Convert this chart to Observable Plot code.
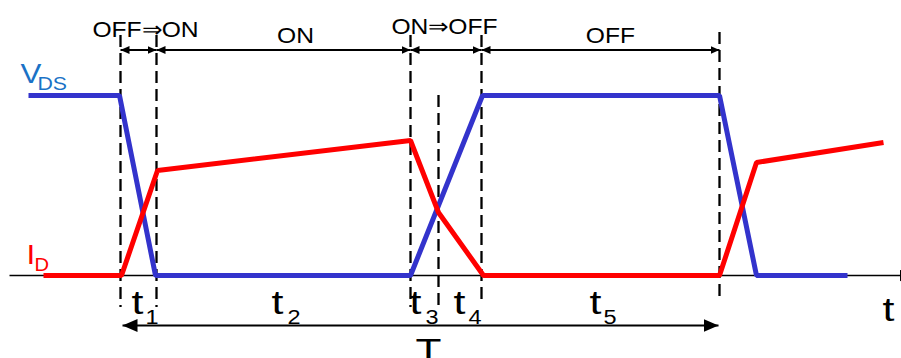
<!DOCTYPE html>
<html><head><meta charset="utf-8">
<script src="https://cdn.jsdelivr.net/npm/d3@7"></script>
<script src="https://cdn.jsdelivr.net/npm/@observablehq/plot@0.6"></script>
<style>html,body{margin:0;padding:0;overflow:hidden;background:#fff} svg{display:block}</style>
</head><body><div id="chart"></div>
<script>
// Time in arbitrary units, signal level in arbitrary units (0 = time axis)
const vdsTime  = [28, 119, 155, 410, 482, 719, 756, 847];
const vdsLevel = [180, 180, 0, 0, 180, 180, 0, 0];
const idTime   = [43, 121, 157, 410, 438, 483, 719, 756, 883];
const idLevel  = [0, 0, 105, 135, 63, 0, 0, 113, 133];

const edgeTime   = [120, 156, 410, 438, 481, 719];
const edgeTop    = [240, 240, 240, 180, 240, 243];
const edgeBottom = [-32, -32, -32, -31, -30, -27];

const phaseNames      = ["OFF⇒ON", "ON", "ON⇒OFF", "OFF"];
const phaseStart      = [120, 156, 410, 481];
const phaseEnd        = [156, 410, 481, 719];
const phaseLabelX     = [145, 295, 444, 610];
const phaseLabelLevel = [239, 233, 242, 233];
const phaseArrowLevel = 225.5;

const intervalSubs   = ["1", "2", "3", "4", "5"];
const intervalLabelX = [131, 271, 409, 453, 589];
const intervalSubX   = [145, 287, 425, 468, 603];

const periodStart = 122, periodEnd = 718, periodLevel = -50;
const axisStart = 9, axisEnd = 912;

const vds = vdsTime.map((t, i) => ({t, v: vdsLevel[i]}));
const id  = idTime.map((t, i) => ({t, v: idLevel[i]}));
const edges = edgeTime.map((t, i) => ({t, top: edgeTop[i], bottom: edgeBottom[i]}));
const phases = phaseNames.map((name, i) => ({name, a: phaseStart[i], b: phaseEnd[i], lx: phaseLabelX[i], ly: phaseLabelLevel[i]}));
const intervals = intervalSubs.map((s, i) => ({s, x: intervalLabelX[i], sx: intervalSubX[i]}));

function head(len, wid) {
  return (color) => {
    const m = d3.create("svg:marker")
      .attr("viewBox", `${-len} ${-wid / 2} ${len} ${wid}`)
      .attr("markerWidth", len).attr("markerHeight", wid)
      .attr("markerUnits", "userSpaceOnUse")
      .attr("refX", 0).attr("refY", 0)
      .attr("orient", "auto-start-reverse");
    m.append("path").attr("d", `M0,0L${-len},${-wid / 2}L${-len},${wid / 2}Z`).attr("fill", color).attr("stroke", "none");
    return m.node();
  };
}

const FONT = "Liberation Sans, Arial, sans-serif";
const BLUE = "#3333cc", RED = "#ff0000", LABELBLUE = "#1a72c6";

const chart = Plot.plot({
  width: 901, height: 358,
  marginTop: 0, marginRight: 0, marginBottom: 0, marginLeft: 0,
  style: {fontFamily: FONT, background: "#fff", overflow: "hidden"},
  x: {domain: [0, 901], axis: null},
  y: {domain: [-83, 275], axis: null},
  marks: [
    Plot.link([0], {x1: axisStart, x2: axisEnd, y1: 0, y2: 0, stroke: "black", strokeWidth: 1.6, markerEnd: head(13, 12)}),
    Plot.ruleX(edges, {x: "t", y1: "top", y2: "bottom", stroke: "black", strokeWidth: 2.3, strokeDasharray: "12,6"}),
    Plot.link(phases, {x1: "a", x2: "b", y1: phaseArrowLevel, y2: phaseArrowLevel, stroke: "black", strokeWidth: 2, markerStart: head(9, 8), markerEnd: head(9, 8)}),
    Plot.link([0], {x1: periodStart, x2: periodEnd, y1: periodLevel, y2: periodLevel, stroke: "black", strokeWidth: 2, markerStart: head(15, 13), markerEnd: head(15, 13)}),
    Plot.line(vds, {x: "t", y: "v", stroke: BLUE, strokeWidth: 5, strokeLinejoin: "miter", strokeLinecap: "butt"}),
    Plot.line(id, {x: "t", y: "v", stroke: RED, strokeWidth: 5, strokeLinejoin: "miter", strokeLinecap: "butt"}),
    Plot.text(phases, {x: "lx", y: "ly", text: "name", fontSize: 22, lineAnchor: "bottom", textAnchor: "middle", fill: "black"}),
    Plot.text(["V"], {x: 20, y: 193, text: d => d, fontSize: 28, lineAnchor: "bottom", textAnchor: "start", fill: LABELBLUE}),
    Plot.text(["DS"], {x: 37, y: 186, text: d => d, fontSize: 19, lineAnchor: "bottom", textAnchor: "start", fill: LABELBLUE}),
    Plot.text(["I"], {x: 26, y: 12, text: d => d, fontSize: 28, lineAnchor: "bottom", textAnchor: "start", fill: RED}),
    Plot.text(["D"], {x: 34, y: 5, text: d => d, fontSize: 18, lineAnchor: "bottom", textAnchor: "start", fill: RED}),
    Plot.text(intervals, {x: "x", y: -38, text: d => "t", fontSize: 33, lineAnchor: "bottom", textAnchor: "start", fill: "black"}),
    Plot.text(intervals, {x: "sx", y: -48, text: "s", fontSize: 21, lineAnchor: "bottom", textAnchor: "start", fill: "black"}),
    Plot.text(["t"], {x: 882, y: -45, text: d => d, fontSize: 33, lineAnchor: "bottom", textAnchor: "start", fill: "black"}),
    Plot.text(["T"], {x: 428, y: -86, text: d => d, fontSize: 34, lineAnchor: "bottom", textAnchor: "middle", fill: "black"})
  ]
});
d3.select(chart).selectAll("text").each(function () {
  const tr = this.getAttribute("transform") || "";
  const s = this.textContent === "t" ? 1.3 : this.textContent === "T" ? 1.25 : 1.12;
  this.setAttribute("transform", tr + ` scale(${s},1)`);
});
document.getElementById("chart").appendChild(chart);
</script></body></html>
